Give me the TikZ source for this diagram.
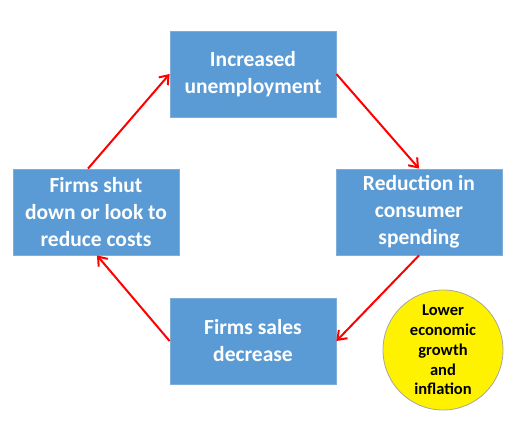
\documentclass[tikz,border=0pt]{standalone}
\usepackage{fontspec}
\setmainfont{Carlito}
\usetikzlibrary{arrows.meta,calc}
\definecolor{boxblue}{HTML}{5B9BD5}
\definecolor{boxedge}{HTML}{7FAEDB}
\definecolor{arrred}{HTML}{FF0000}
\begin{document}
\begin{tikzpicture}[x=1pt,y=-1pt,
  box/.style={draw=boxedge,line width=0.8pt,fill=boxblue,minimum width=166pt,minimum height=86pt,
    text=white,font=\fontsize{21.5}{27}\selectfont\bfseries,align=center,inner sep=0pt},
  cyc/.style={draw=arrred,line width=2pt,-{Straight Barb[length=8pt,width=12pt,line width=2pt]}}]
\useasboundingbox (0,0) rectangle (516,426);
\node[box] (top) at (253,74) {Increased\\unemployment};
\node[box] (right) at (419,212) {Reduction in\\consumer\\spending};
\node[box] (bottom) at (253,341) {Firms sales\\decrease};
\node[box] (left) at (96,212) {Firms shut\\down or look to\\reduce costs};
\node[circle,draw=gray!70,line width=0.8pt,fill=yellow,minimum size=120pt,inner sep=0pt,
  font=\fontsize{16.5}{19.8}\selectfont\bfseries,align=center] (circ) at (443,350)
  {Lower\\economic\\growth\\and\\inflation};
\coordinate (lt) at ($(left.north)+(-8,0)$);
\coordinate (lb) at ($(left.south)+(1,0)$);
\draw[cyc] (lt) -- (top.west);
\draw[cyc] (top.east) -- (right.north);
\draw[cyc] (right.south) -- (bottom.east);
\draw[cyc] (bottom.west) -- (lb);
\end{tikzpicture}
\end{document}
